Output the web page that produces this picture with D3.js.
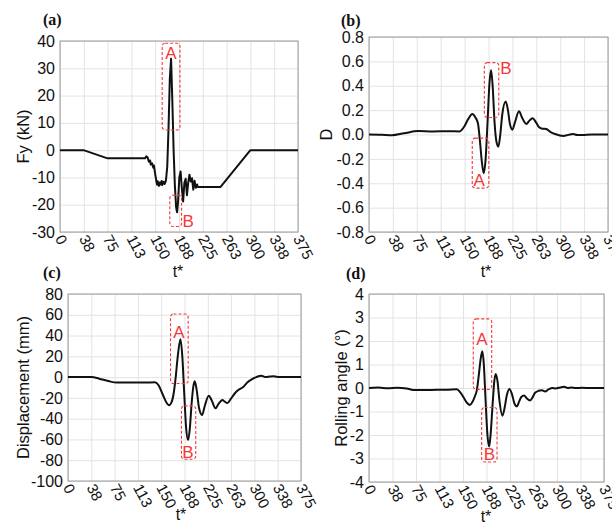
<!DOCTYPE html>
<html>
<head>
<meta charset="utf-8">
<script src="https://cdn.jsdelivr.net/npm/d3@7"></script>
<style>
  body { margin: 0; background: #fff; }
  svg { display: block; }
</style>
</head>
<body>
<svg id="fig" width="612" height="524"></svg>
<script>
// ---- shared time axis ----
const tTickValues = [0, 37.5, 75, 112.5, 150, 187.5, 225, 262.5, 300, 337.5, 375];
const tTickLabels = ["0", "38", "75", "113", "150", "188", "225", "263", "300", "338", "375"];

// ---- (a) lateral force Fy (kN) ----
const fyTicks = [-30, -20, -10, 0, 10, 20, 30, 40];
const fyTickLabels = ["-30", "-20", "-10", "0", "10", "20", "30", "40"];
const fySeries = [
  [0, 0], [37, 0], [75, -3], [134, -3], [136, -2.3], [138, -2.6], [140, -4.2], [142, -3.8],
  [143, -5.3], [145, -4.8], [147, -6.4], [148, -5.6], [150, -8.8], [152, -11.6], [153, -12.7],
  [154, -11.4], [156, -13.1], [157, -11.9], [158, -12.6], [160, -11.3], [161, -12.8],
  [163, -11.6], [165, -12.4], [167, -11], [169, -6], [171, 8], [173, 26], [175, 33.5],
  [177, 18], [179, 0], [181, -13], [183, -21], [184.5, -22.8], [186, -19], [188, -10],
  [190, -7.8], [192, -14], [194, -18.8], [196, -12], [198, -10.5], [200, -16.5], [202, -12],
  [204, -9], [206, -11.5], [208, -10.3], [210, -14.5], [212, -11.2], [214, -13.8],
  [216, -12.6], [217, -13.5], [253, -13.5], [300, 0], [375, 0]
];
const fyBoxes = [
  { name: "A", t0: 161, t1: 189, v0: 7.4, v1: 39.2, lt: 174.9, lv: 35.7 },
  { name: "B", t0: 173, t1: 191.5, v0: -28, v1: -16.5, lt: 202, lv: -25.8 }
];

// ---- (b) D ----
const dTicks = [-0.8, -0.6, -0.4, -0.2, 0, 0.2, 0.4, 0.6, 0.8];
const dTickLabels = ["-0.8", "-0.6", "-0.4", "-0.2", "0.0", "0.2", "0.4", "0.6", "0.8"];
const dSeries = [
  [0, 0], [20, -0.002], [36, -0.006], [55, 0.01], [77, 0.028], [100, 0.025], [125, 0.027],
  [142, 0.025], [150, 0.07], [156, 0.13], [162, 0.168], [167, 0.14], [171, 0.09],
  [174, -0.05], [177, -0.22], [180, -0.318], [183, -0.2], [186, 0.1], [189, 0.42],
  [191.5, 0.53], [194, 0.4], [197, 0.1], [200, -0.06], [203, -0.1], [206, 0.0], [209, 0.16],
  [214.5, 0.27], [218, 0.2], [221, 0.09], [225, 0.04], [229, 0.1], [235.4, 0.19], [240, 0.14],
  [247, 0.086], [251, 0.11], [256.8, 0.133], [262, 0.1], [267, 0.06], [272, 0.048],
  [278, 0.045], [285, 0.02], [292, 0.004], [305, -0.012], [313, -0.003], [320, 0.004],
  [327, -0.005], [335, -0.004], [350, 0], [375, 0]
];
const dBoxes = [
  { name: "A", t0: 162, t1: 188, v0: -0.44, v1: -0.03, lt: 173, lv: -0.373 },
  { name: "B", t0: 181, t1: 203.6, v0: 0.14, v1: 0.59, lt: 215, lv: 0.543 }
];

// ---- (c) Displacement (mm) ----
const dispTicks = [-100, -80, -60, -40, -20, 0, 20, 40, 60, 80];
const dispTickLabels = ["-100", "-80", "-60", "-40", "-20", "0", "20", "40", "60", "80"];
const dispSeries = [
  [0, 0], [38, 0], [50, -1.5], [65, -3.8], [78, -5.3], [100, -5.3], [125, -5.3], [140, -5],
  [146, -8], [152, -16], [158, -24], [162.7, -27], [166, -25], [170, -16], [173, -2],
  [177, 22], [181, 36.5], [184, 20], [187, -15], [190, -48], [193.3, -60.6], [196, -50],
  [199, -25], [202, -8], [204, -4], [207, -12], [211, -30], [215.8, -36.5], [220, -28],
  [226.6, -18], [231, -22], [237.4, -30], [242, -26], [248.6, -22], [252, -23.5],
  [256.7, -25], [262, -21], [268, -16], [274, -12.5], [282, -9.5], [289, -5], [295, -2.5],
  [303, 0], [311, 1.3], [318, 0], [325, 0.5], [331, 0.8], [340, 0], [375, 0]
];
const dispBoxes = [
  { name: "A", t0: 165, t1: 193.4, v0: -6.2, v1: 60.8, lt: 178.6, lv: 43.7 },
  { name: "B", t0: 182.6, t1: 205.6, v0: -79, v1: -27.7, lt: 193.2, lv: -72 }
];

// ---- (d) Rolling angle (°) ----
const rollTicks = [-4, -3, -2, -1, 0, 1, 2, 3, 4];
const rollTickLabels = ["-4", "-3", "-2", "-1", "0", "1", "2", "3", "4"];
const rollSeries = [
  [0, 0], [15, 0.02], [30, -0.01], [45, 0.01], [60, -0.02], [73, -0.09], [100, -0.08],
  [125, -0.07], [140, -0.05], [146, -0.2], [152, -0.45], [157, -0.65], [161, -0.72],
  [165, -0.6], [169, -0.35], [172, -0.1], [175, 0.5], [178, 1.2], [180.8, 1.56], [183, 1.1],
  [186, -0.5], [189, -2.0], [191.7, -2.49], [194, -2.0], [197, -0.8], [200, 0.3],
  [202.2, 0.6], [205, 0.3], [208, -0.5], [212.9, -1.18], [216, -0.9], [220, -0.3],
  [224, -0.04], [228, -0.25], [232, -0.65], [235.8, -0.78], [240, -0.55], [243, -0.38],
  [247.5, -0.32], [252, -0.45], [257, -0.53], [261, -0.4], [265, -0.2], [270.6, -0.12],
  [276, -0.1], [281, -0.15], [287, -0.05], [292.7, 0], [298, -0.02], [303, 0.01],
  [311.6, 0.05], [317, 0.0], [323, 0.02], [330, 0], [340, 0.01], [355, 0], [375, 0]
];
const rollBoxes = [
  { name: "A", t0: 166.4, t1: 195.8, v0: -0.06, v1: 2.94, lt: 180.3, lv: 2.11 },
  { name: "B", t0: 179.8, t1: 204.3, v0: -3.15, v1: -0.83, lt: 192, lv: -2.79 }
];

const svg = d3.select("#fig");
const FONT = "'Liberation Sans', Arial, sans-serif";

function drawPanel(cfg) {
  const { l, r, t, b } = cfg.box;
  const x = d3.scaleLinear().domain([0, 375]).range([l, r]);
  const y = d3.scaleLinear().domain([cfg.ticks[0], cfg.ticks[cfg.ticks.length - 1]]).range([b, t]);
  const g = svg.append("g");

  // grid lines
  const gridX = g.append("g").attr("transform", `translate(0,${b})`)
    .call(d3.axisBottom(x).tickValues(tTickValues).tickSize(-(b - t)).tickFormat(""));
  const gridY = g.append("g").attr("transform", `translate(${l},0)`)
    .call(d3.axisLeft(y).tickValues(cfg.ticks).tickSize(-(r - l)).tickFormat(""));
  [gridX, gridY].forEach(a => {
    a.select(".domain").remove();
    a.selectAll(".tick line").attr("stroke", "#e3e3e3").attr("stroke-width", 1);
  });

  // frame
  g.append("rect").attr("x", l).attr("y", t).attr("width", r - l).attr("height", b - t)
    .attr("fill", "none").attr("stroke", "#9a9a9a").attr("stroke-width", 1);

  // y tick labels
  const ya = g.append("g").attr("transform", `translate(${l},0)`)
    .call(d3.axisLeft(y).tickValues(cfg.ticks).tickSize(0).tickPadding(5)
      .tickFormat((d, i) => cfg.tickLabels[i]));
  ya.select(".domain").remove();
  ya.selectAll("text").attr("font-family", FONT).attr("font-size", 16).attr("fill", "#111");

  // x tick labels (rotated)
  const xa = g.append("g").attr("transform", `translate(0,${b})`)
    .call(d3.axisBottom(x).tickValues(tTickValues).tickSize(0)
      .tickFormat((d, i) => tTickLabels[i]));
  xa.select(".domain").remove();
  xa.selectAll("text")
    .attr("font-family", FONT).attr("font-size", 15).attr("fill", "#111")
    .attr("x", 0).attr("y", 0).attr("dy", "0.35em")
    .attr("transform", "translate(-1,4) rotate(62)")
    .style("text-anchor", "start");

  // axis titles
  g.append("text").attr("x", cfg.xTitle[0]).attr("y", cfg.xTitle[1])
    .attr("text-anchor", "middle").attr("font-family", FONT).attr("font-size", 16)
    .attr("fill", "#111").text("t*");
  g.append("text")
    .attr("transform", `translate(${cfg.yTitleX},${(t + b) / 2}) rotate(-90)`)
    .attr("text-anchor", "middle").attr("dy", "0.35em")
    .attr("font-family", FONT).attr("font-size", 16.5).attr("fill", "#111")
    .text(cfg.yTitle);

  // panel letter
  g.append("text").attr("x", cfg.letter[0]).attr("y", cfg.letter[1])
    .attr("font-family", "'Liberation Serif', 'Times New Roman', serif")
    .attr("font-weight", "bold").attr("font-size", 16).attr("fill", "#111")
    .text(cfg.letterText);

  // series line
  const clipId = "clip-" + cfg.letterText.replace(/[()]/g, "");
  svg.append("clipPath").attr("id", clipId).append("rect")
    .attr("x", l).attr("y", t - 2).attr("width", r - l).attr("height", b - t + 4);
  const line = d3.line().x(d => x(d[0])).y(d => y(d[1])).curve(cfg.curve);
  g.append("path").datum(cfg.series).attr("clip-path", `url(#${clipId})`)
    .attr("d", line).attr("fill", "none").attr("stroke", "#111")
    .attr("stroke-width", 2).attr("stroke-linejoin", "round");

  // annotation boxes
  cfg.boxes.forEach(bx => {
    g.append("rect")
      .attr("x", x(bx.t0)).attr("y", y(bx.v1))
      .attr("width", x(bx.t1) - x(bx.t0)).attr("height", y(bx.v0) - y(bx.v1))
      .attr("rx", 3).attr("ry", 3)
      .attr("fill", "none").attr("stroke", "#f2383c").attr("stroke-width", 1.1)
      .attr("stroke-dasharray", "3,2");
    g.append("text").attr("x", x(bx.lt)).attr("y", y(bx.lv))
      .attr("text-anchor", "middle").attr("dy", "0.36em")
      .attr("font-family", FONT).attr("font-size", 17).attr("fill", "#f2383c")
      .text(bx.name);
  });
}

drawPanel({
  box: { l: 60, r: 298, t: 41, b: 232 }, ticks: fyTicks, tickLabels: fyTickLabels,
  series: fySeries, boxes: fyBoxes, curve: d3.curveLinear,
  yTitle: "Fy (kN)", yTitleX: 23, xTitle: [178, 277], letter: [43, 25], letterText: "(a)"
});
drawPanel({
  box: { l: 369, r: 608, t: 37, b: 232 }, ticks: dTicks, tickLabels: dTickLabels,
  series: dSeries, boxes: dBoxes, curve: d3.curveMonotoneX,
  yTitle: "D", yTitleX: 326, xTitle: [486, 277], letter: [341, 26], letterText: "(b)"
});
drawPanel({
  box: { l: 68, r: 301, t: 294, b: 481 }, ticks: dispTicks, tickLabels: dispTickLabels,
  series: dispSeries, boxes: dispBoxes, curve: d3.curveMonotoneX,
  yTitle: "Displacement (mm)", yTitleX: 23.5, xTitle: [181, 520], letter: [43, 278], letterText: "(c)"
});
drawPanel({
  box: { l: 369, r: 604, t: 294, b: 482 }, ticks: rollTicks, tickLabels: rollTickLabels,
  series: rollSeries, boxes: rollBoxes, curve: d3.curveMonotoneX,
  yTitle: "Rolling angle (°)", yTitleX: 341, xTitle: [486, 522], letter: [346, 279], letterText: "(d)"
});
</script>
</body>
</html>
